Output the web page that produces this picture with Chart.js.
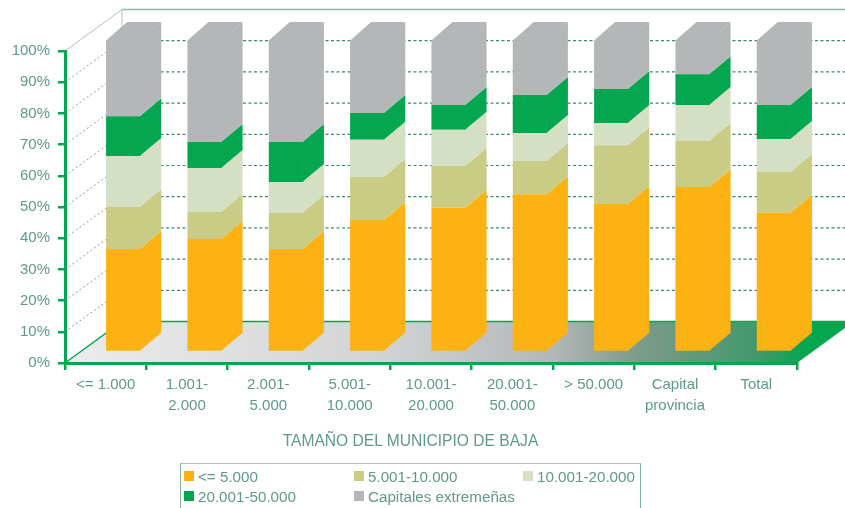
<!DOCTYPE html>
<html lang="es">
<head>
<meta charset="utf-8">
<style>
html,body{margin:0;padding:0;background:#fff;overflow:hidden}
#wrap{position:relative;width:845px;height:508px;overflow:hidden;font-family:"Liberation Sans",Arial,sans-serif;color:#5f9a84}
canvas{position:absolute;left:0;top:0}
#axisTitle{position:absolute;left:0;width:821px;top:432px;text-align:center;font-size:15.6px;line-height:18px;white-space:nowrap}
#legend{position:absolute;left:180px;top:463px;width:461px;height:60px;box-sizing:border-box;border:1.5px solid #7fb3a0;border-top-color:#b5bdba;font-size:15.2px}
.it{position:absolute;white-space:nowrap;line-height:18px}
.it i{position:absolute;left:-14px;top:3px;width:10px;height:10px}
</style>
</head>
<body>
<div id="wrap">
<canvas id="c" width="845" height="508"></canvas>
<div id="axisTitle"></div>
<div id="legend"></div>
</div>
<script src="https://cdn.jsdelivr.net/npm/chart.js@4/dist/chart.umd.min.js"></script>
<script>
const categories = [["<= 1.000"],["1.001-","2.000"],["2.001-","5.000"],["5.001-","10.000"],["10.001-","20.000"],["20.001-","50.000"],["> 50.000"],["Capital","provincia"],["Total"]];
const seriesNames = ["<= 5.000","5.001-10.000","10.001-20.000","20.001-50.000","Capitales extremeñas"];
const seriesColors = ["#FDB214","#C9CC85","#D5DFC3","#04A64F","#B4B7B8"];
const upTo5000 = [33.0,36.2,33.0,42.3,46.2,50.6,47.4,52.9,44.6];
const from5001 = [13.5,8.7,11.6,13.8,13.4,10.6,18.9,14.7,13.1];
const from10001 = [16.3,14.1,9.9,11.9,11.6,9.0,7.1,11.6,10.6];
const from20001 = [12.8,8.3,12.8,8.6,8.0,12.2,10.9,9.8,10.9];
const capitales = [24.4,32.7,32.7,23.4,20.8,17.6,15.7,11.0,20.8];
const xAxisTitle = "TAMAÑO DEL MUNICIPIO DE BAJA";
const seriesValues = [upTo5000,from5001,from10001,from20001,capitales];

const GREEN="#04A64F", TEXT="#5f9a84";
const WALL={dx:57,dy:-41.5}, SHIFT={dx:17.5,dy:-11}, SIDE={dx:21,dy:-18};

const scene3d={
  id:"scene3d",
  beforeDraw(chart){
    const {ctx,chartArea:a}=chart, y=chart.scales.y;
    const y0=y.getPixelForValue(0), y100=y.getPixelForValue(100);
    ctx.save();
    // floor
    const g=ctx.createLinearGradient(a.left,0,a.right+WALL.dx,0);
    [[0,"#ececec"],[.4,"#d2d3d4"],[.62,"#b4b6b7"],[.72,"#7f9c8c"],[.88,"#41986a"],[.94,GREEN],[1,GREEN]].forEach(s=>g.addColorStop(s[0],s[1]));
    ctx.fillStyle=g;
    ctx.beginPath();
    ctx.moveTo(a.left,y0);ctx.lineTo(a.left+WALL.dx,y0+WALL.dy);
    ctx.lineTo(a.right+WALL.dx,y0+WALL.dy);ctx.lineTo(a.right,y0);ctx.closePath();ctx.fill();
    // back wall outline
    ctx.strokeStyle="#8fb5ac";ctx.lineWidth=1.5;
    ctx.beginPath();ctx.moveTo(a.left+WALL.dx,y100+WALL.dy);ctx.lineTo(845,y100+WALL.dy);ctx.stroke();
    ctx.strokeStyle="#b4bdb9";ctx.lineWidth=1;
    ctx.beginPath();ctx.moveTo(a.left,y100);ctx.lineTo(a.left+WALL.dx,y100+WALL.dy);ctx.lineTo(a.left+WALL.dx,y0+WALL.dy);ctx.stroke();
    // floor edges
    ctx.strokeStyle=GREEN;ctx.lineWidth=1.5;
    ctx.beginPath();ctx.moveTo(a.left,y0);ctx.lineTo(a.left+WALL.dx,y0+WALL.dy);ctx.lineTo(845,y0+WALL.dy);ctx.stroke();
    // grid levels
    y.ticks.forEach(t=>{
      if(t.value<=0||t.value>=100)return;
      const p=y.getPixelForValue(t.value);
      ctx.setLineDash([2,2.5]);ctx.lineWidth=1;ctx.strokeStyle="#8a9a94";
      ctx.beginPath();ctx.moveTo(a.left,p);ctx.lineTo(a.left+WALL.dx,p+WALL.dy);ctx.stroke();
      ctx.setLineDash([3,2.5]);ctx.lineWidth=1.2;ctx.strokeStyle="#3d8a6c";
      ctx.beginPath();ctx.moveTo(a.left+WALL.dx,p+WALL.dy);ctx.lineTo(845,p+WALL.dy);ctx.stroke();
    });
    ctx.restore();
  },
  beforeDatasetsDraw(chart){
    const ctx=chart.ctx;
    ctx.save();
    ctx.translate(SHIFT.dx,SHIFT.dy);
    const last=chart.data.datasets.length-1;
    chart.data.datasets.forEach((ds,i)=>{
      chart.getDatasetMeta(i).data.forEach(b=>{
        const r=b.x+b.width/2,l=b.x-b.width/2;
        ctx.fillStyle=ds.backgroundColor;
        ctx.beginPath();
        ctx.moveTo(r-.5,b.y);ctx.lineTo(r+SIDE.dx,b.y+SIDE.dy);
        ctx.lineTo(r+SIDE.dx,b.base+SIDE.dy);ctx.lineTo(r-.5,b.base);ctx.closePath();ctx.fill();
        if(i===last){
          ctx.beginPath();
          ctx.moveTo(l,b.y+.5);ctx.lineTo(l+SIDE.dx,b.y+SIDE.dy);
          ctx.lineTo(r+SIDE.dx,b.y+SIDE.dy);ctx.lineTo(r,b.y+.5);ctx.closePath();ctx.fill();
        }
      });
    });
  },
  afterDatasetsDraw(chart){chart.ctx.restore();}
};

new Chart(document.getElementById("c"),{
  type:"bar",
  data:{labels:categories,datasets:seriesNames.map((n,i)=>({
    label:n,data:seriesValues[i],backgroundColor:seriesColors[i],borderWidth:0,
    barPercentage:.42,categoryPercentage:1,clip:false,stack:"s"
  }))},
  options:{
    responsive:false,animation:false,
    layout:{padding:{left:0,top:51,right:48,bottom:0}},
    plugins:{legend:{display:false},tooltip:{enabled:false}},
    scales:{
      x:{stacked:true,
        afterFit(s){s.height=145;},
        border:{color:GREEN,width:3},
        grid:{drawOnChartArea:false,color:GREEN,lineWidth:2.5,tickLength:7,offset:true},
        ticks:{color:TEXT,font:{family:"Liberation Sans",size:15,lineHeight:1.4},padding:4,maxRotation:0,autoSkip:false}
      },
      y:{stacked:true,min:0,max:100,
        afterFit(s){s.width=65;},
        border:{color:GREEN,width:3},
        grid:{drawOnChartArea:false,color:GREEN,lineWidth:2.5,tickLength:7},
        ticks:{stepSize:10,color:TEXT,font:{family:"Liberation Sans",size:15},padding:8,callback:v=>v+"%"}
      }
    }
  },
  plugins:[scene3d]
});

document.getElementById("axisTitle").textContent=xAxisTitle;
const cols=[17,187,356], rows=[4,24];
const lg=document.getElementById("legend");
seriesNames.forEach((n,i)=>{
  const d=document.createElement("div");d.className="it";
  d.style.left=cols[i%3]+"px";d.style.top=rows[Math.floor(i/3)]+"px";
  const sw=document.createElement("i");sw.style.background=seriesColors[i];
  d.appendChild(sw);d.appendChild(document.createTextNode(n));lg.appendChild(d);
});
</script>
</body>
</html>
